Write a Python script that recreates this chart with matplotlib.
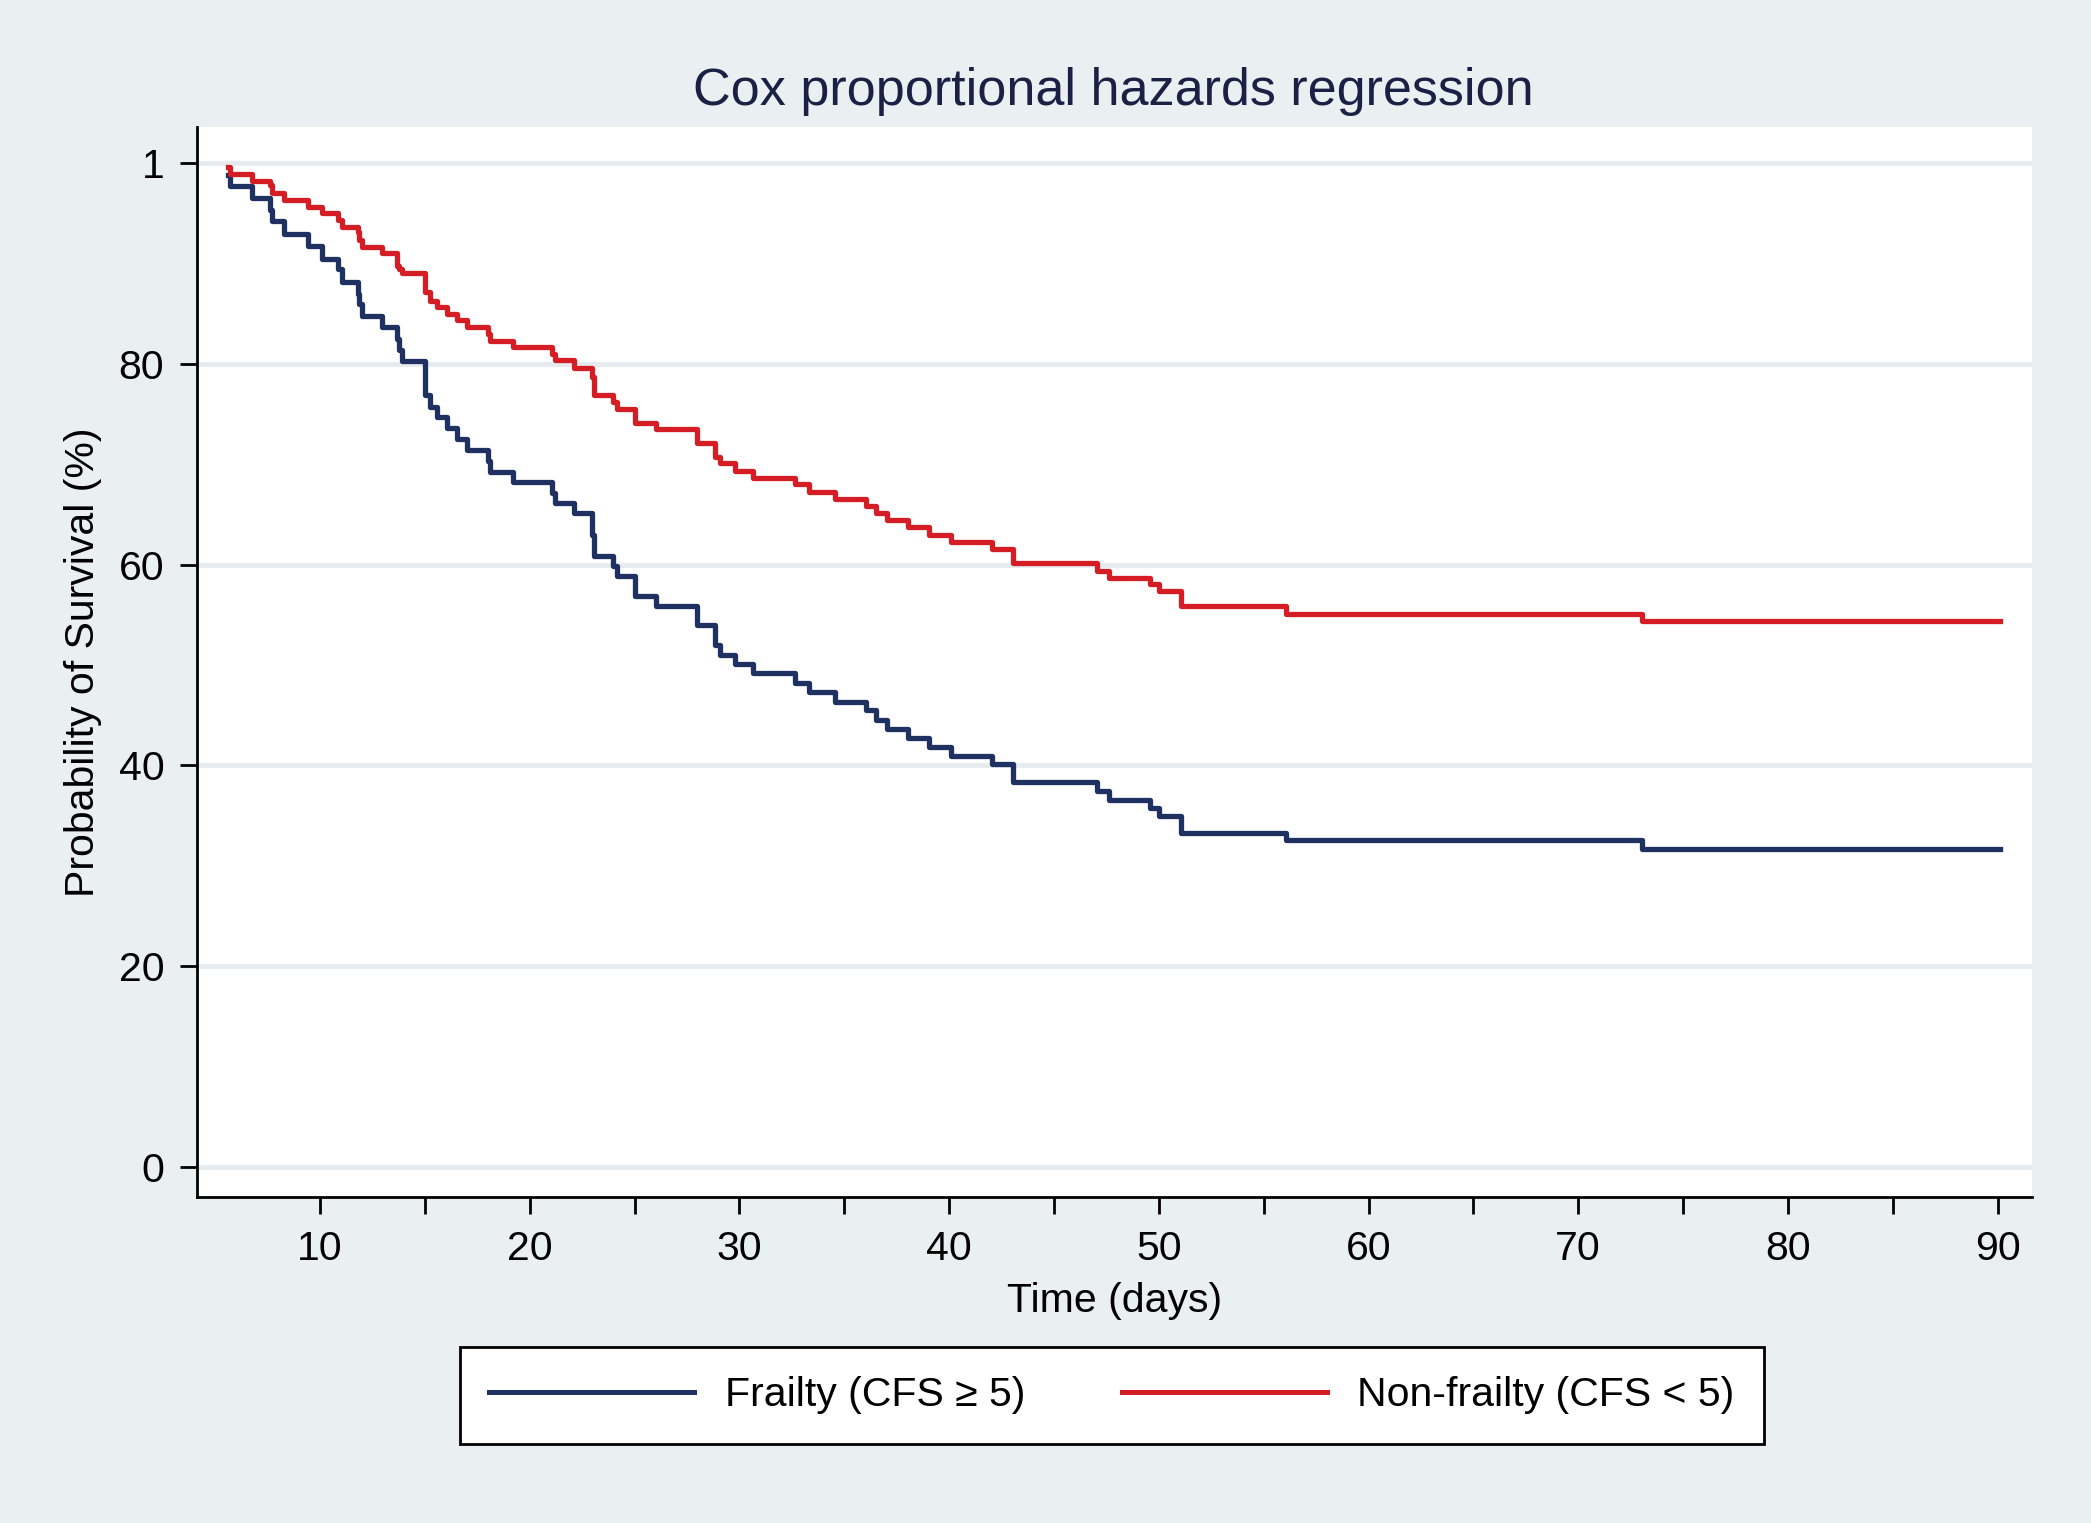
import matplotlib
matplotlib.use("Agg")
import matplotlib.pyplot as plt
from matplotlib.lines import Line2D

plt.rcParams['font.family'] = ['Liberation Sans', 'DejaVu Sans']

# Shared event times (days)
times = [5.62, 5.70, 6.74, 7.62, 7.73, 8.30, 9.41, 10.08, 10.84, 11.03, 11.80, 11.87, 11.99,
         12.94, 13.66, 13.75, 13.90, 15.00, 15.25, 15.57, 16.04, 16.52, 17.00, 18.00, 18.10,
         19.20, 21.05, 21.20, 22.10, 22.96, 23.05, 23.99, 24.18, 25.02, 26.02, 27.96, 28.84,
         29.07, 29.79, 30.63, 32.65, 33.33, 34.56, 36.04, 36.52, 37.02, 38.05, 39.04, 40.08,
         42.03, 43.03, 47.04, 47.60, 49.60, 50.00, 51.04, 56.07, 73.04]
t_end = 90.1

non_frailty = [99.6, 98.9, 98.2, 97.8, 97.0, 96.3, 95.6, 95.0, 94.3, 93.6, 93.1, 92.3, 91.6,
               91.0, 89.8, 89.5, 89.1, 87.2, 86.3, 85.7, 85.0, 84.4, 83.7, 83.0, 82.3,
               81.7, 81.0, 80.4, 79.6, 78.7, 76.9, 76.2, 75.5, 74.1, 73.5, 72.1, 70.7,
               70.1, 69.3, 68.6, 68.0, 67.2, 66.5, 65.8, 65.1, 64.5, 63.8, 63.0, 62.3,
               61.6, 60.2, 59.4, 58.7, 58.05, 57.4, 55.9, 55.1, 54.4]

frailty = [98.8, 97.7, 96.5, 95.3, 94.2, 92.9, 91.7, 90.5, 89.5, 88.2, 87.0, 86.0, 84.8,
           83.7, 82.5, 81.4, 80.3, 76.9, 75.7, 74.7, 73.6, 72.5, 71.4, 70.3, 69.2,
           68.2, 67.1, 66.1, 65.1, 63.0, 60.9, 59.9, 58.9, 56.9, 55.9, 54.0, 52.0,
           51.0, 50.1, 49.2, 48.2, 47.3, 46.3, 45.5, 44.5, 43.6, 42.7, 41.8, 40.9,
           40.1, 38.4, 37.5, 36.6, 35.8, 35.0, 33.3, 32.6, 31.7]

yticks = [0, 20, 40, 60, 80, 100]
ytick_labels = ["0", "20", "40", "60", "80", "1"]
xticks = [10, 20, 30, 40, 50, 60, 70, 80, 90]
xminor = [15, 25, 35, 45, 55, 65, 75, 85]

title = "Cox proportional hazards regression"
labels = ["Frailty (CFS \u2265 5)", "Non-frailty (CFS < 5)"]

bg = "#EAEFF2"
navy = "#1E3160"
red = "#D41D24"
fs = 29.5

fig = plt.figure(figsize=(20.91, 15.23), dpi=100, facecolor=bg)
ax = fig.add_axes([0.0942, 0.2140, 0.9718 - 0.0942, 0.9166 - 0.2140])
ax.set_facecolor("white")

tx = times + [t_end]
ax.plot(tx, frailty + [frailty[-1]], drawstyle="steps-post", color=navy, lw=3.8, zorder=3)
ax.plot(tx, non_frailty + [non_frailty[-1]], drawstyle="steps-post", color=red, lw=3.8, zorder=3)

ax.set_xlim(4.13, 91.64)
ax.set_ylim(-3.0, 103.6)

for s in ["top", "right"]:
    ax.spines[s].set_visible(False)
for s in ["left", "bottom"]:
    ax.spines[s].set_linewidth(2.0)
    ax.spines[s].set_color("black")

ax.set_yticks(yticks)
ax.set_yticklabels(ytick_labels)
ax.set_xticks(xticks)
ax.set_xticks(xminor, minor=True)
ax.tick_params(axis="both", which="both", direction="out", length=12.5, width=2, labelsize=fs, colors="black")
ax.tick_params(axis="x", which="major", pad=11)
ax.tick_params(axis="y", which="major", pad=11)
ax.yaxis.grid(True, color="#E5EBEE", lw=3.5, zorder=0)
ax.set_axisbelow(True)

ax.set_xlabel("Time (days)", fontsize=fs, labelpad=10)
ax.set_ylabel("Probability of Survival (%)", fontsize=fs, labelpad=12)

fig.text(0.5325, 1 - 91 / 1523, title, ha="center", va="center", fontsize=37.5, color="#1B2145")

handles = [Line2D([], [], color=navy, lw=3.6), Line2D([], [], color=red, lw=3.6)]
leg = fig.legend(handles, labels, loc="center", bbox_to_anchor=(1112 / 2091, 1 - 1395 / 1523),
                 ncol=2, fontsize=fs, frameon=True, fancybox=False, edgecolor="black",
                 facecolor="white", framealpha=1, handlelength=5.0, handletextpad=0.75,
                 columnspacing=2.35, borderpad=0.72, borderaxespad=0)
leg.get_frame().set_linewidth(2.0)

fig.savefig("out.png", dpi=100, facecolor=bg)
